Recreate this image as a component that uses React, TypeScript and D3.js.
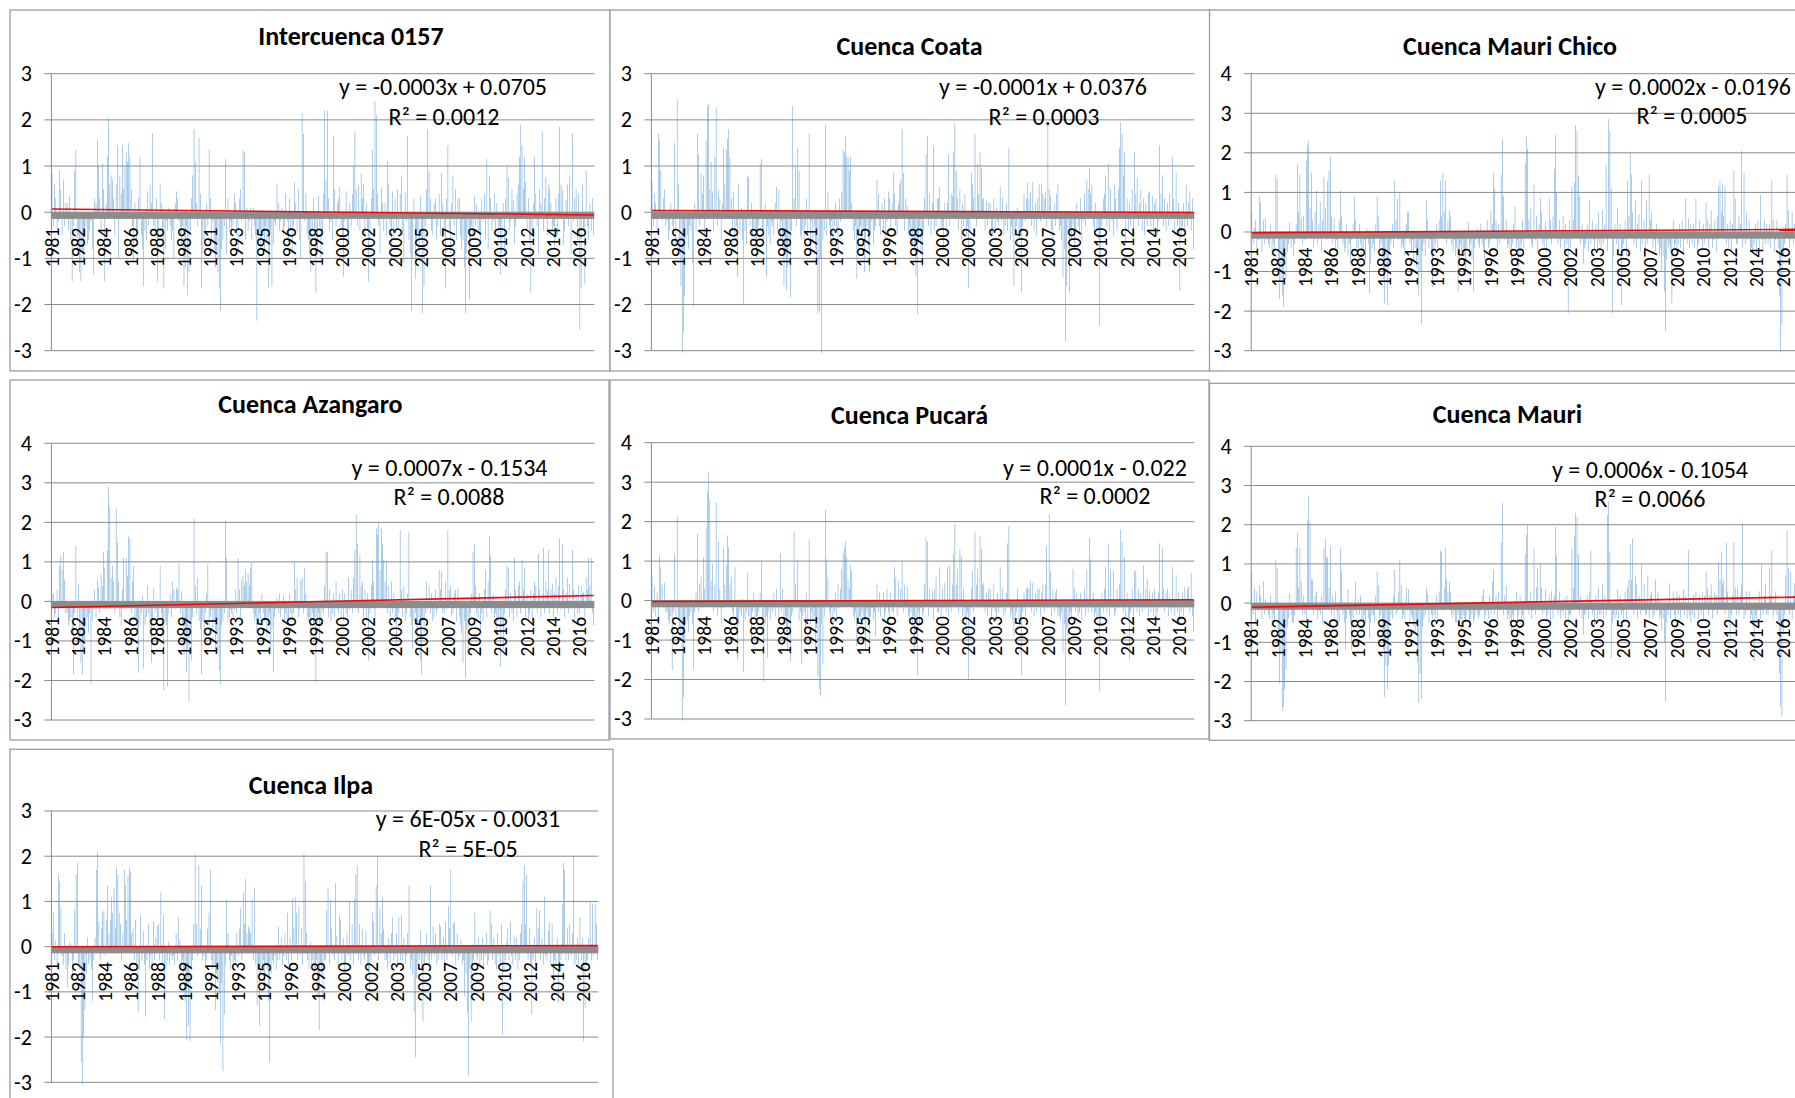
import React from 'react';
import * as d3 from 'd3';

// ---------- DATA (monthly anomalies, Jan 1981 – Dec 2016, 432 values per basin) ----------
const xTickLabels = ['1981','1982','1984','1986','1988','1989','1991','1993','1995','1996','1998','2000','2002','2003','2005','2007','2009','2010','2012','2014','2016'];
const labelStep = 21;

const intercuenca0157 = [
0.85,-0.3,0.6,0.3,-0.4,-0.2,0.9,0.5,-0.5,0.7,-0.3,0.2,
0.2,-0.4,0.35,-0.6,-1.5,-0.3,0.9,1.35,-0.8,-0.5,-1.3,-1.5,
-0.9,-1.1,-0.5,-0.3,-0.7,-0.6,-0.4,-0.2,-0.8,-1.35,0.3,0.2,
1.55,1.0,0.3,-0.4,1.05,0.5,-1.5,0.2,1.2,2.05,0.6,0.8,
0.7,0.3,-0.5,0.6,1.45,-1.0,0.8,0.4,1.45,0.5,1.0,1.3,
1.1,1.5,1.2,0.5,-0.3,-1.05,0.2,-0.6,-0.4,0.3,1.2,-0.5,
-0.8,-1.6,-0.4,-0.6,0.45,-0.3,0.6,0.2,1.7,-0.3,-0.5,0.3,
-1.5,-0.6,0.6,0.2,-0.5,-1.65,-0.8,-0.2,-0.4,0.1,-0.3,-0.6,
-0.4,-1.0,0.2,0.45,0.3,-0.2,-0.5,-0.7,-0.3,-1.6,-1.2,-0.3,
-1.8,-1.3,-0.4,0.3,0.8,1.8,1.1,0.2,-0.3,1.6,0.4,-1.65,
-0.9,-0.6,-0.4,0.2,-0.3,1.35,0.3,-0.6,-0.2,-0.8,-1.2,-0.9,
-1.3,-1.65,-2.15,-0.8,-0.6,-0.3,1.15,-0.9,0.3,-0.4,-0.2,-0.5,
-0.3,0.4,0.2,-0.5,-0.9,0.3,0.5,-0.2,1.35,1.3,-0.6,0.1,
-0.4,-0.2,0.1,-0.6,0.1,-0.3,-0.5,-2.35,-0.7,-0.4,-0.8,-0.6,
-0.5,-0.8,-0.3,-0.6,-1.65,-1.0,-0.4,-1.6,-0.7,-0.2,-0.3,0.6,
0.2,-0.4,-0.2,0.1,-0.5,-0.3,0.4,-0.2,-0.6,0.3,-0.4,-0.9,
-0.3,0.65,0.2,-0.4,0.5,-0.6,-1.0,2.15,1.7,-0.2,0.4,-0.5,
-0.6,-0.9,-1.3,-0.4,0.3,-0.5,-1.75,-0.8,0.35,-0.3,-1.0,-0.4,
0.4,2.2,0.7,2.2,0.3,-0.4,-0.2,-0.6,1.65,0.5,-0.3,0.2,
0.3,0.55,-0.3,-0.5,-1.4,-0.2,0.45,-0.4,-0.7,0.2,-0.3,0.4,
1.0,1.75,0.5,-0.3,0.6,-0.4,0.85,0.3,0.6,-0.5,0.2,-0.4,
-1.5,-0.6,0.3,1.35,0.5,2.4,2.1,0.4,-0.3,-0.9,0.55,0.2,
-0.4,0.2,-0.5,1.1,0.6,-0.3,-1.0,0.45,-0.6,0.3,-0.4,0.5,
-0.3,0.4,0.8,-0.5,-1.1,0.45,-0.2,1.65,-0.6,-0.9,-2.15,-1.0,
0.3,-1.45,-0.7,-0.4,-0.9,0.35,-0.6,-2.2,-1.6,-0.3,0.5,1.8,
0.9,0.3,-0.4,-0.5,0.2,0.3,-0.6,-0.3,0.4,-0.5,0.85,0.2,
-0.5,-1.65,0.3,1.45,-0.4,-0.9,0.2,0.8,-0.3,0.5,-0.6,0.3,
0.3,-0.5,-0.8,-0.6,-1.2,-2.2,-0.9,-0.4,-1.9,-0.7,-0.3,-0.5,
0.35,-0.3,0.2,-0.4,-0.5,-0.7,0.3,-0.2,0.4,-0.6,1.15,-0.8,
0.8,0.3,-0.4,-0.2,0.4,-0.5,0.2,-0.6,-0.3,-1.35,-0.9,0.2,
-0.9,0.3,1.0,0.75,-0.4,-0.2,0.5,0.25,-0.7,-0.3,0.4,0.6,
1.2,1.9,1.45,0.5,1.2,0.65,-0.4,0.3,-0.6,-1.75,-0.5,0.2,
1.2,0.4,-0.3,-0.9,0.5,0.2,1.75,-0.4,0.3,0.75,-0.5,0.6,
0.5,0.2,-0.4,-0.3,-0.8,0.3,-0.5,0.4,1.85,0.6,0.5,-0.7,
-0.4,0.25,0.6,-0.3,0.8,-0.9,1.7,-0.2,0.3,0.5,-0.6,0.4,
-2.55,-1.65,0.6,-0.4,-1.55,0.9,-0.3,-0.6,0.2,-0.4,0.3,-0.5,
];

const cuencaCoata = [
0.65,-0.3,0.4,0.2,-0.4,1.7,1.55,0.9,-0.2,0.3,0.5,-0.3,
-0.2,-0.6,-0.4,0.2,-0.3,-0.5,1.5,-0.7,2.45,0.6,-0.9,-1.6,
-3.05,-2.6,-1.8,-0.6,-0.5,-0.8,-0.3,-0.4,-1.1,-2.05,0.2,-0.4,
1.7,1.25,-0.3,0.85,0.4,0.8,-0.5,1.55,2.3,2.35,0.5,1.1,
0.45,-0.4,1.2,2.25,-0.3,0.5,0.3,-0.6,0.2,1.4,0.6,1.35,
1.6,1.8,1.2,0.3,-0.4,0.45,-0.6,-0.3,-1.4,0.6,-0.5,0.1,
-0.6,-2.0,-0.4,-0.7,0.8,0.75,-0.3,0.2,-0.5,-0.4,-0.8,-1.0,
-0.5,-0.3,1.05,1.15,-0.4,-0.6,0.2,-1.4,-0.3,-0.5,-0.7,-0.2,
-0.3,-0.5,0.2,0.55,-0.4,0.5,-0.6,-0.2,-0.8,-1.6,-0.9,-1.7,
-1.2,-0.6,-1.85,-0.4,2.3,0.3,1.0,-0.3,1.4,0.9,-0.5,-0.6,
-0.4,-0.6,-0.3,0.3,-0.5,1.7,-0.9,-0.2,-0.6,-0.3,-0.8,-1.1,
-2.2,-2.15,-1.0,-3.05,-0.6,-0.4,1.9,-0.5,0.45,-0.3,-0.6,-0.2,
-0.7,-0.3,0.2,-0.4,-0.8,0.3,-0.2,0.45,1.35,1.3,1.65,1.2,
1.2,0.9,1.2,0.2,-0.4,-0.6,-0.3,-1.45,-0.8,-0.5,-0.3,-0.6,
-0.4,-1.3,-0.6,-0.3,-0.8,-1.3,-0.5,-0.2,-0.7,-0.4,-0.3,0.7,
0.4,-0.3,-0.5,0.2,-0.4,0.3,-0.6,-0.2,0.45,0.3,-0.4,0.2,
0.85,0.4,-0.3,-0.5,0.2,0.6,0.7,1.8,0.85,-0.4,0.3,0.15,
-0.5,-0.3,-0.6,-0.7,-0.4,-0.8,-1.4,-2.2,-0.6,-0.3,-0.9,-1.2,
-0.4,0.3,1.25,1.65,-0.3,0.4,-0.5,0.2,1.45,-0.4,-0.3,0.3,
0.3,0.55,-0.4,-0.3,-0.8,0.2,-0.5,0.2,1.25,-0.3,0.4,0.35,
1.3,1.95,0.9,0.3,-0.4,0.5,-0.6,0.2,-0.3,0.4,-0.5,-0.3,
-1.65,-0.4,0.85,0.6,0.3,1.7,-0.3,1.05,0.4,1.3,0.95,0.3,
0.3,-0.4,0.25,-0.3,0.2,0.2,-0.5,-0.5,0.3,-0.4,0.1,-0.2,
-0.3,0.55,-0.2,0.3,-0.5,-0.3,0.2,-0.4,1.4,-0.6,-0.3,-0.5,
-1.6,-0.5,-0.3,0.1,-0.6,-0.4,-1.75,-0.3,0.4,-0.2,0.3,0.65,
0.3,0.45,-0.3,0.65,-0.4,0.2,-0.5,0.3,0.6,-0.2,0.6,0.4,
0.3,0.45,-0.3,1.9,0.5,0.35,-0.4,-0.7,0.2,-0.3,0.4,0.6,
-0.4,-0.3,-0.6,-1.4,-0.8,-2.8,-1.6,-0.5,-1.75,-0.4,-0.6,-0.3,
-0.8,-0.4,0.2,-0.3,-0.5,0.3,-0.6,-0.2,0.4,-0.3,0.7,0.5,
0.95,0.4,0.6,-0.3,-0.5,0.2,-0.4,-0.6,-2.45,-1.1,-0.3,0.3,
0.4,0.8,-0.3,1.05,-0.4,0.5,-0.2,-0.5,0.6,0.3,-0.4,0.5,
1.4,1.95,1.7,0.8,1.3,-0.7,0.3,-0.4,0.2,-0.3,0.5,-0.4,
1.3,0.4,0.75,-0.3,0.2,0.5,-0.4,0.3,-0.5,0.2,-0.3,0.4,
0.45,-0.3,0.35,-0.4,0.2,0.3,-0.5,-0.2,1.45,0.4,0.8,-0.3,
0.3,-0.4,0.2,-0.3,0.4,-0.2,1.2,0.3,-0.5,0.85,-0.3,0.2,
-1.7,-0.5,-0.3,0.2,-0.4,0.6,-0.3,0.2,0.45,-0.4,0.3,-0.8,
];

const cuencaMauriChico = [
0.5,-0.3,0.1,0.3,-0.4,-0.2,0.9,0.75,-0.5,0.3,-0.3,0.35,
-0.2,-0.3,-0.4,0.2,-0.6,-0.3,-0.5,1.45,1.35,-0.8,-1.7,-1.2,
-1.6,-1.9,-0.8,-1.2,-0.5,-0.3,0.25,-0.4,-0.2,-0.6,-0.3,0.2,
1.7,0.5,1.45,0.35,-0.3,0.4,-0.2,1.8,2.2,2.3,0.6,1.5,
0.3,-0.4,0.5,1.05,-0.3,0.2,0.75,-0.5,0.3,1.4,0.6,-0.2,
1.3,1.55,1.9,0.4,-0.3,0.35,-0.4,-0.2,-0.5,0.3,1.05,0.4,
-0.3,-0.5,-0.4,0.2,-0.6,-0.3,-0.8,-0.2,0.2,0.9,0.3,-0.4,
-0.5,0.2,-0.3,-0.6,-0.4,-0.2,-0.7,0.1,-0.3,-1.55,-0.8,-0.4,
-0.3,-0.5,0.2,0.9,0.4,-0.4,-0.3,-0.6,-1.2,-1.8,-0.9,-1.85,
-0.8,-0.5,-0.3,0.2,-0.4,1.3,0.3,0.85,-0.2,1.0,-0.4,-0.3,
-0.4,-0.6,0.2,0.5,0.5,-0.3,-0.5,-0.2,-0.7,-0.4,-0.9,-0.6,
-1.6,-1.0,-2.35,-0.5,-0.3,-0.6,0.8,0.3,-0.4,-0.2,-0.5,-1.4,
-0.5,-0.3,0.2,-0.4,0.3,1.3,0.4,1.5,0.5,1.3,-0.3,0.3,
0.55,0.4,-0.3,-0.5,-0.2,-0.6,-0.4,-1.5,-0.8,-0.3,-0.5,-0.4,
-0.6,-1.1,-0.4,0.25,-0.5,-0.3,-0.7,-1.5,-0.4,-0.2,0.1,-0.3,
-0.4,0.2,-0.3,-0.5,-0.7,-0.2,0.3,-0.4,-0.3,0.55,0.2,1.5,
1.1,0.3,-0.4,0.2,-0.3,1.45,2.35,0.9,-0.2,0.3,-0.4,-0.3,
-0.5,-0.8,-0.3,0.2,0.65,-0.4,-0.2,-0.9,-0.5,-0.3,0.3,-0.4,
1.75,2.4,2.1,0.3,0.6,-0.3,-0.4,1.2,-0.2,0.4,-0.5,0.2,
0.85,0.5,-0.3,-0.4,0.25,-0.5,-0.2,0.85,0.3,-0.3,0.4,1.6,
2.45,1.0,-0.3,0.3,-0.4,-0.2,0.4,-0.5,0.2,-0.3,-2.05,0.3,
-0.4,1.15,0.3,1.25,2.7,2.55,1.4,0.9,-0.3,0.2,-0.8,-0.4,
-0.3,0.2,-0.5,0.8,-0.3,0.3,-0.2,-0.4,0.2,-0.5,0.5,-0.3,
-0.4,0.55,-0.3,0.2,1.7,-0.5,2.85,2.55,1.1,-2.05,-0.6,0.2,
-0.3,0.6,-0.5,0.2,-1.85,-0.4,-0.3,0.3,-0.6,1.3,0.4,2.0,
1.45,0.5,-0.3,0.8,-0.4,0.2,0.45,-0.5,1.3,-0.3,0.3,-0.4,
0.8,-0.3,1.45,0.3,0.5,-0.4,-0.2,-0.5,0.2,-0.3,-0.6,-0.4,
-1.0,-0.6,-1.5,-2.5,-0.7,-0.4,-0.3,-0.5,-1.8,0.3,-0.4,-0.3,
-0.5,-0.3,0.2,-0.4,0.3,-0.5,-0.2,0.85,-0.3,0.35,-0.4,0.2,
-0.3,0.2,-0.4,0.85,-0.5,-0.3,0.3,-0.2,-0.4,0.2,-0.3,0.75,
0.3,-0.4,0.2,0.55,-0.4,-0.2,0.3,-0.5,0.4,1.15,1.3,0.5,
1.2,0.4,1.15,-0.3,0.2,-0.4,0.3,-0.5,0.2,1.55,0.85,-0.3,
-0.3,0.4,0.2,2.05,-0.4,1.5,-0.3,0.5,-0.2,0.3,-0.5,-0.4,
-0.5,-0.3,0.2,-0.6,0.3,-0.4,0.95,-0.2,-0.5,0.3,-0.3,0.2,
-0.3,0.2,-0.4,1.3,0.3,-0.5,-0.2,0.3,-0.4,-1.6,-3.05,-2.35,
-0.6,-0.3,0.2,1.45,0.55,-0.4,-0.2,0.5,-0.3,0.2,-0.4,0.3,
];

const cuencaAzangaro = [
0.2,0.2,-0.4,-0.3,0.3,-0.5,0.9,1.15,0.8,1.25,0.55,-0.3,
-0.3,-0.6,-0.5,-0.4,-0.8,-1.85,-0.3,1.4,-0.5,0.45,-1.0,-1.55,
-1.85,-1.2,-1.0,-0.6,-0.4,-0.8,-0.3,-2.1,-0.5,-0.2,0.3,-0.4,
0.55,0.35,-0.3,0.7,0.4,1.25,0.85,-0.2,1.3,2.9,2.4,0.6,
0.9,0.5,-0.3,2.35,1.5,0.5,-0.4,-0.6,0.3,1.1,-0.2,1.1,
0.65,1.65,1.6,-0.3,0.5,0.9,-0.5,-0.4,-0.8,-1.8,-0.6,-0.3,
0.15,-1.7,-0.6,-0.4,0.4,-0.3,-0.8,-1.55,-0.5,0.35,-0.3,-0.2,
-0.6,-0.4,0.9,-0.3,-0.8,-2.25,-0.5,-0.6,-2.15,-0.3,0.2,-0.4,
0.5,0.3,-0.2,0.35,0.3,0.95,-0.3,0.25,-0.6,-1.35,-0.9,-1.8,
-1.2,-2.55,-0.8,-1.5,-0.4,2.1,0.4,-0.3,0.6,-0.5,-0.7,-1.85,
-0.5,-0.9,-0.3,0.2,0.95,-0.6,-0.4,-0.2,-0.7,-0.5,-1.2,-0.8,
-1.3,-1.75,-2.1,-0.6,-0.5,-0.3,2.05,1.1,-0.5,-0.4,-0.2,-0.3,
-0.4,-0.2,0.3,-0.3,1.1,0.3,-0.4,0.55,0.65,0.4,0.8,0.5,
0.7,0.4,0.85,1.0,-0.3,-0.5,-0.4,-0.8,-0.6,-0.3,-0.5,0.2,
-0.3,-0.5,-0.4,-0.9,-0.6,-0.3,-1.3,-0.7,-1.8,-0.4,-0.2,0.1,
-0.3,0.2,-0.4,-0.2,0.15,-0.5,-0.3,-0.6,-0.5,0.2,-0.3,-0.4,
-0.3,1.0,0.3,0.6,-0.4,-0.2,0.55,0.6,-0.3,0.85,0.2,-0.4,
-0.5,-0.4,-0.9,-0.3,-0.6,-0.4,-2.05,-0.5,-0.3,-1.0,-0.6,-0.2,
-0.3,0.4,1.25,1.25,-0.4,0.3,-0.5,-0.3,0.2,-0.4,0.5,-0.2,
-0.3,0.2,-0.4,0.3,-0.5,0.2,-0.3,-0.4,0.6,-0.2,0.3,-0.3,
0.6,1.3,2.2,1.45,-0.3,1.2,0.4,0.5,-0.4,0.3,-0.5,0.2,
-1.5,-0.3,0.4,1.05,0.5,-0.4,1.85,1.7,2.0,0.8,1.85,1.45,
1.05,0.5,1.0,-0.3,0.4,-0.4,0.5,-0.3,0.2,-0.5,-1.1,-0.4,
-0.3,1.8,0.3,-0.4,0.4,-0.5,-0.3,0.2,1.75,-0.4,-0.6,-1.2,
-0.5,-0.3,-0.6,-0.9,-0.4,-1.5,-1.85,-0.5,-0.8,-0.3,0.5,-0.2,
0.4,-0.3,0.2,-0.5,-0.4,0.3,-0.3,-0.2,0.8,0.3,0.75,-0.3,
-0.3,0.5,-0.2,1.8,0.3,0.4,-0.4,-0.3,0.2,0.3,-0.5,0.35,
-0.4,-0.6,-0.8,-1.55,-0.5,-1.95,-0.7,-1.4,-0.4,-0.3,0.2,1.25,
1.45,0.4,-0.3,-0.4,0.2,-0.7,-0.3,-0.5,0.3,0.8,-0.4,0.5,
1.65,1.15,-0.3,0.2,-0.4,-0.3,-0.8,-0.5,-0.2,-1.65,-0.6,-1.2,
-0.3,0.3,0.9,0.85,-0.4,0.2,-0.3,-0.5,1.1,0.3,-0.4,0.4,
0.5,-0.3,1.05,0.3,0.85,-0.4,0.2,-0.5,-0.3,0.3,-0.4,0.2,
0.5,0.4,-0.3,1.2,0.3,-0.4,0.2,1.35,-0.3,0.5,0.3,1.3,
-0.3,0.3,0.45,-0.4,0.2,0.6,-0.3,0.4,1.6,-0.2,1.45,0.3,
-0.4,0.2,0.6,-0.3,0.45,-0.2,1.3,0.3,-0.5,0.2,-0.3,0.4,
-0.3,0.4,0.2,0.25,-0.4,0.6,0.3,1.1,0.4,1.1,-0.3,-0.6,
];

const cuencaPucara = [
0.6,-0.3,0.35,-0.4,0.2,-0.5,1.15,0.85,0.4,-0.2,0.45,-0.3,
-0.3,-0.5,-0.6,-0.4,-1.75,-0.3,1.2,-0.4,2.15,-0.5,-0.7,-1.0,
-3.05,-2.45,-1.0,-0.6,-0.5,-0.8,-0.4,-0.3,-0.6,-1.75,-0.3,0.2,
1.7,-0.3,0.4,0.6,-0.2,1.1,0.3,1.85,2.75,3.25,2.55,0.5,
0.95,-0.3,0.4,2.5,-0.4,1.5,0.3,-0.6,-0.2,1.35,0.4,0.9,
1.65,1.35,0.4,0.6,-0.3,-0.4,0.85,-0.5,-1.5,-0.6,-0.3,-0.4,
0.05,-1.8,-0.5,-0.3,0.7,-0.4,-0.6,-1.0,-0.3,0.2,-0.4,-0.5,
-0.4,-0.3,0.2,1.0,-0.5,-2.05,-0.6,-0.4,-1.45,-0.3,-0.5,-0.2,
-0.3,0.2,-0.4,0.3,-0.2,-0.5,1.2,-0.3,0.3,-0.6,-0.4,-0.8,
-1.3,-0.6,-1.55,-0.4,-0.3,1.75,0.4,-0.2,1.05,-0.5,-0.3,-1.6,
-0.4,-0.3,-0.8,0.2,-0.5,1.55,-0.6,-0.3,-0.5,-0.4,-1.2,-0.7,
-1.9,-2.25,-2.4,-0.6,-1.6,-0.4,2.3,1.05,0.6,-0.3,-0.5,-0.2,
-0.6,-0.3,0.2,-0.4,0.4,-0.2,0.3,0.8,1.2,1.35,1.5,1.1,
0.5,0.3,0.9,0.75,-0.4,-0.5,-0.3,-1.15,-0.6,-0.4,-0.5,-0.3,
-0.4,-0.5,-1.25,-0.3,-0.6,-1.35,-0.4,-0.2,-0.5,-0.3,-0.9,0.4,
-0.3,0.2,-0.4,-0.2,0.2,-0.5,-0.3,0.3,-0.3,-0.4,0.2,-0.3,
-0.3,0.85,0.6,-0.4,0.5,-0.2,0.3,1.0,-0.3,0.4,-0.2,0.35,
-0.4,-0.5,-0.3,-0.6,-0.4,-1.3,-0.5,-1.9,-0.3,-0.6,-0.2,-0.4,
-0.3,0.4,1.6,1.5,-0.4,0.3,-0.2,0.25,-0.5,0.3,0.6,-0.3,
-0.3,0.85,-0.4,0.3,-0.2,0.45,-0.3,0.85,-0.4,0.9,-0.3,0.4,
1.2,1.95,0.4,0.8,-0.3,1.3,1.15,-0.4,0.3,-0.5,-0.9,-0.3,
-2.0,-0.4,0.3,0.75,-0.3,1.75,0.4,0.8,-0.2,1.65,1.3,0.4,
0.45,-0.3,0.2,-0.4,0.3,0.3,-0.5,-0.2,0.4,-0.3,-0.5,0.2,
-0.3,0.85,-0.2,0.3,-0.4,-0.3,0.2,1.45,1.9,-0.4,-0.3,-0.5,
-0.9,-0.4,-0.3,0.3,-0.5,-0.6,-1.9,-0.3,0.2,-0.4,0.3,0.35,
0.3,0.5,-0.3,0.45,-0.4,0.2,-0.3,0.3,0.3,-0.4,0.2,0.4,
-0.3,0.4,1.4,-0.2,2.2,0.75,-0.4,0.3,-0.3,0.2,0.3,-0.4,
-0.4,-0.5,-0.3,-1.3,-0.6,-2.65,-0.7,-1.1,-0.4,-0.3,-0.5,0.8,
0.3,-0.3,0.2,-0.4,-0.3,0.2,-0.5,-0.2,0.3,-0.4,0.8,-0.3,
1.6,1.05,-0.3,0.2,-0.4,-0.3,-0.5,-0.4,-2.3,-0.6,0.2,-0.3,
0.3,0.85,-0.3,1.45,-0.4,0.8,-0.2,0.75,-0.4,-0.3,0.3,-0.2,
0.4,1.8,1.5,-0.3,1.1,-0.4,0.2,-0.5,-1.5,-0.3,0.3,-0.4,
0.75,0.75,-0.3,0.3,-0.4,0.2,-0.3,0.9,-0.2,0.3,0.55,-0.4,
0.25,-0.3,0.2,-0.4,0.3,-0.5,-0.3,0.2,1.45,-0.2,1.35,0.3,
-0.3,0.2,0.3,-0.4,0.1,-0.3,0.85,-0.2,-0.4,0.65,-0.3,0.2,
-0.6,-0.3,0.2,-0.4,0.35,-0.2,0.3,0.35,-0.3,0.7,-0.4,-0.8,
];

const cuencaMauri = [
0.75,-0.3,0.4,-0.5,0.3,-0.2,0.45,0.2,-0.4,0.55,-0.3,0.1,
-0.2,-0.3,-0.4,0.2,-0.6,-0.3,-0.5,1.1,0.9,-0.7,-2.05,-1.3,
-2.75,-2.65,-2.2,-1.7,-0.6,-0.4,0.25,-0.3,-0.5,-0.5,-0.3,1.4,
1.8,0.4,1.4,0.55,-0.3,0.2,-0.3,-0.4,2.1,2.75,2.05,0.6,
0.6,-0.3,0.2,0.3,-0.4,-0.2,-0.3,0.2,-0.5,1.4,1.65,1.2,
1.15,0.4,1.45,-0.3,0.2,-0.4,0.3,-0.2,-0.6,-0.5,1.4,0.8,
-0.3,-0.5,-1.2,-0.4,0.35,-0.3,-0.5,-1.2,-0.4,-0.2,0.55,-0.3,
0.1,-0.3,0.2,-0.4,-0.6,-0.3,-0.5,-0.2,-0.4,-0.9,-0.5,-0.3,
-0.3,-0.5,0.2,0.8,0.45,-0.4,-0.3,-0.9,-1.2,-2.4,-1.6,-2.2,
-1.6,-0.5,-0.3,-0.4,0.2,0.85,-0.3,-0.2,0.3,1.1,0.45,-0.4,
-0.3,-0.4,0.4,-0.2,0.35,-0.5,-0.3,-0.4,-0.6,-0.8,-0.5,-1.5,
-2.55,-1.8,-2.45,-0.6,-0.4,-0.3,0.4,0.25,-0.5,-0.2,-0.3,-0.4,
-0.3,-0.4,0.2,-0.5,0.3,1.35,1.3,-0.2,0.4,1.4,0.6,0.3,
0.55,0.3,-0.3,-0.4,-0.2,-0.5,-0.5,-0.3,-0.6,-0.4,-0.7,-0.3,
-0.4,-0.5,-0.3,-0.2,-0.6,-0.4,-0.3,-0.5,-0.4,-0.2,-0.3,-0.4,
-0.3,-0.2,0.2,0.35,-0.4,-0.3,-0.2,-0.4,0.2,-0.3,0.55,0.85,
-0.3,0.2,-0.4,0.3,-0.2,1.55,2.55,-0.3,0.2,0.45,-0.4,-0.3,
-0.5,-0.8,-0.3,-0.4,-0.2,0.3,-0.5,-0.3,0.2,-0.4,-0.3,-0.5,
1.25,1.75,2.0,-0.3,0.3,-0.4,-0.2,1.4,-0.3,0.4,0.9,-0.2,
1.0,0.4,-0.3,-0.2,0.35,-0.4,-0.3,0.2,-0.5,0.3,-0.4,0.2,
1.95,1.2,-0.3,0.3,-0.4,-0.2,-0.3,0.1,-0.4,0.2,-0.5,-0.3,
-0.3,1.4,0.4,1.7,2.3,2.2,1.25,-0.3,0.2,-0.4,-0.8,-0.3,
-0.3,0.2,-0.4,0.3,1.35,-0.3,-0.2,-0.6,0.2,-0.4,0.4,-0.3,
-0.3,0.5,-0.4,0.2,-0.3,2.25,2.6,1.3,-1.4,-0.5,-0.3,-0.4,
-0.3,0.35,-0.4,0.2,-0.3,-0.2,-0.5,0.3,-0.4,0.4,0.6,1.5,
0.6,1.65,-0.3,0.7,0.5,-0.4,0.2,-0.3,1.0,-0.2,0.5,-0.3,
-0.3,0.7,-0.4,0.2,0.3,-0.4,-0.3,0.6,-0.2,0.3,-0.4,-0.3,
-0.7,-0.4,-1.0,-2.5,-0.5,-0.3,0.5,-0.4,-0.2,0.3,-0.3,-0.4,
0.3,-0.3,0.2,-0.4,-0.2,0.35,-0.3,0.2,-0.4,1.35,-0.3,-0.5,
-0.3,0.2,-0.4,0.3,-0.2,-0.4,0.2,-0.3,0.3,-0.4,0.2,0.8,
0.4,-0.3,0.2,0.5,-0.4,-0.2,0.3,0.2,-0.3,1.05,0.6,1.3,
0.5,0.6,-0.3,1.55,0.3,-0.4,-1.0,-0.3,0.2,1.55,0.4,-0.3,
0.4,-0.3,0.2,0.5,2.05,-0.4,-0.3,0.3,-0.2,0.3,-0.4,-0.3,
-0.6,-1.5,-0.3,-0.4,-0.2,0.3,-0.4,1.0,-0.3,0.2,0.5,-0.3,
-0.3,0.9,0.2,1.35,-0.4,-0.2,0.3,-0.3,-0.5,-1.8,-2.65,-2.9,
-0.8,-0.3,0.7,1.85,0.9,-0.3,0.8,-0.4,0.2,0.5,-0.3,0.2,
];

const cuencaIlpa = [
0.3,0.75,-0.3,0.15,-0.5,1.6,1.45,0.85,-0.2,-0.4,0.3,-0.5,
-0.9,-0.4,0.1,0.05,-0.7,-0.3,0.8,1.6,1.85,-0.4,-0.5,-2.55,
-3.05,-2.0,-1.4,-0.6,0.2,-0.4,-0.3,-0.5,-1.2,-0.3,0.2,1.7,
2.1,0.55,-0.3,0.4,0.75,0.8,-0.2,0.6,1.35,0.3,0.6,1.1,
0.75,1.3,0.4,1.75,1.6,0.75,0.5,-0.3,0.3,1.7,1.35,0.6,
1.55,1.75,1.65,0.3,0.4,-0.3,0.6,-0.4,-1.45,-0.5,0.7,-0.3,
0.35,-0.4,-1.55,-0.3,0.5,-0.5,-0.2,-0.4,0.55,-0.3,0.2,0.45,
0.5,-0.3,1.2,-0.4,0.7,-1.6,-0.5,-0.3,0.1,-0.4,-0.2,-0.3,
-0.2,-0.4,0.3,-0.3,0.65,0.15,-0.5,-0.3,-0.6,-1.2,-2.05,-0.8,
-1.75,-2.1,-0.5,-0.3,0.5,2.05,0.5,-0.2,1.8,0.4,1.35,-0.3,
-0.2,-0.4,-0.3,0.4,0.75,1.7,-0.3,-0.5,-0.4,-1.4,-0.6,-0.8,
-1.05,-2.15,-0.8,-2.75,-1.5,-0.4,1.05,0.3,-0.3,-0.5,-0.2,-0.4,
-0.3,-0.4,0.3,-0.2,0.4,0.85,-0.3,1.2,0.5,1.5,0.3,0.45,
0.4,0.3,1.05,-0.3,1.3,-0.4,-1.3,-0.5,-1.75,-0.6,-0.4,-0.3,
-0.8,-0.4,-0.5,-1.2,-2.55,-0.6,-0.3,-0.4,-0.2,-0.5,-0.3,0.45,
-0.3,0.2,-0.4,-0.2,0.3,-0.3,0.75,-0.4,0.2,-0.3,1.05,0.4,
1.1,0.75,-0.3,0.9,-0.2,0.4,-0.4,2.05,1.45,0.3,-0.3,-0.5,
0.1,-0.4,-0.3,-0.6,-0.5,-0.3,-1.1,-1.85,-0.4,-0.6,-1.2,-0.3,
-0.3,0.8,1.3,-0.4,1.05,0.4,-0.2,-0.3,1.4,0.25,-0.4,0.7,
0.6,-0.3,0.2,-0.6,-0.4,0.3,-0.2,1.0,-0.3,0.5,-0.4,1.05,
1.6,1.8,-0.3,0.5,-0.4,0.4,-0.2,-0.3,0.35,-0.4,-0.6,-1.0,
-0.3,0.75,0.55,-0.2,1.35,2.0,-0.3,0.85,0.3,1.1,0.4,-0.3,
-0.3,-0.5,0.2,-0.4,0.3,0.65,-0.3,-0.2,0.3,-0.4,0.65,-0.3,
0.7,-0.3,0.2,-0.4,-0.2,0.3,1.35,-0.5,-0.3,-0.6,-1.45,-2.45,
-0.7,-0.4,-0.3,0.35,-0.5,-1.65,-0.4,-0.2,0.3,-0.3,-0.4,1.35,
-0.3,0.45,-0.2,0.3,-0.4,-0.3,0.5,0.45,-0.3,0.2,-0.4,0.55,
-0.3,0.9,0.4,1.7,-0.2,0.5,0.55,-0.4,0.3,-0.3,-0.2,0.15,
-0.4,-0.3,-1.1,-0.6,-1.45,-2.85,-0.5,-1.65,-0.4,-0.3,0.75,-0.2,
-0.3,0.2,-0.4,-0.3,0.2,-0.5,-0.2,0.3,-0.4,-0.3,0.8,0.5,
-0.3,0.2,-0.4,-0.5,0.3,-0.2,-0.4,0.5,-1.95,-0.5,-0.3,0.1,
0.4,-0.3,0.55,-0.2,-0.4,0.25,-0.3,0.2,-0.5,-0.3,0.3,0.5,
1.45,1.8,0.5,1.6,-0.3,0.4,-0.4,-1.5,-0.3,0.2,-0.4,0.85,
0.4,0.8,-0.3,0.2,-0.4,1.1,-0.2,-0.3,0.35,0.55,-0.4,0.5,
-0.9,-0.3,-0.4,0.2,-1.25,-0.5,-0.3,0.95,1.85,1.7,-0.3,0.4,
-0.3,0.5,-0.2,0.3,2.0,-0.4,-0.3,0.2,-0.4,0.65,-0.3,0.2,
-2.1,-1.35,-0.4,-0.3,0.2,1.0,-0.3,0.95,-0.2,0.95,0.5,-0.3,
];

const titles = ['Intercuenca 0157', 'Cuenca Coata', 'Cuenca Mauri Chico', 'Cuenca Azangaro', 'Cuenca Pucará', 'Cuenca Mauri', 'Cuenca Ilpa'];
const seriesList = [intercuenca0157, cuencaCoata, cuencaMauriChico, cuencaAzangaro, cuencaPucara, cuencaMauri, cuencaIlpa];
const trendSlopes = [-0.0003, -0.0001, 0.0002, 0.0007, 0.0001, 0.0006, 0.00006];
const trendIntercepts = [0.0705, 0.0376, -0.0196, -0.1534, -0.022, -0.1054, -0.0031];
const equationLabels = ['y = -0.0003x + 0.0705', 'y = -0.0001x + 0.0376', 'y = 0.0002x - 0.0196', 'y = 0.0007x - 0.1534', 'y = 0.0001x - 0.022', 'y = 0.0006x - 0.1054', 'y = 6E-05x - 0.0031'];
const r2Labels = ['R² = 0.0012', 'R² = 0.0003', 'R² = 0.0005', 'R² = 0.0088', 'R² = 0.0002', 'R² = 0.0066', 'R² = 5E-05'];
const yMaxes = [3, 3, 4, 4, 4, 4, 3];
const yMin = -3;

// ---------- LAYOUT (pixels) ----------
const layouts = [
  { box: [10, 10, 600, 361], plot: [51.4, 594.3, 73.7, 350.7], title: [351, 45], eq: [443, 95], r2: [444, 125] },
  { box: [610, 10, 600, 361], plot: [651.4, 1194.3, 73.7, 350.7], title: [909.6, 55], eq: [1043, 95], r2: [1044, 125] },
  { box: [1209.5, 10, 600, 361], plot: [1251.2, 1797.8, 73.7, 350.7], title: [1510, 55], eq: [1693, 95], r2: [1692, 124] },
  { box: [10, 380, 599, 360], plot: [51.4, 594.3, 443.3, 720], title: [310.4, 413.3], eq: [449.5, 476], r2: [449, 505] },
  { box: [610, 380, 599, 359], plot: [651.4, 1194.3, 442.7, 719], title: [909.6, 424], eq: [1095, 476], r2: [1095, 504.3] },
  { box: [1209.5, 383.3, 600, 357], plot: [1251.2, 1797.8, 446.3, 720.7], title: [1507.4, 423.3], eq: [1650, 478.3], r2: [1650, 506.7] },
  { box: [10, 749.3, 603, 360], plot: [51.4, 598.3, 811, 1082.3], title: [311, 794], eq: [468, 827.3], r2: [468, 856.7] },
];

const FONT = 'Carlito, Lato, sans-serif';
const GRID = '#8a8a8a';

function Panel({ idx }: { idx: number }) {
  const data = seriesList[idx];
  const lay = layouts[idx];
  const [x0, x1, yTop, yBot] = lay.plot;
  const n = data.length;
  const x = d3.scaleBand<number>().domain(d3.range(n)).range([x0, x1]).paddingInner(0.6).paddingOuter(0.3);
  const y = d3.scaleLinear().domain([yMin, yMaxes[idx]]).range([yBot, yTop]);
  const bw = x.bandwidth();
  const cx = (i: number) => (x(i) as number) + bw / 2;
  const y0 = y(0);
  const ticks = d3.range(yMin, yMaxes[idx] + 1);
  const trend = d3.line<number>().x((i) => cx(i)).y((i) => y(trendSlopes[idx] * (i + 1) + trendIntercepts[idx]));
  return (
    <g>
      <rect x={lay.box[0]} y={lay.box[1]} width={lay.box[2]} height={lay.box[3]} fill="#fff" stroke="#9c9c9c" strokeWidth={1.3} />
      <text x={lay.title[0]} y={lay.title[1]} textAnchor="middle" fontSize={26} fontWeight="bold" fill="#000">{titles[idx]}</text>
      {ticks.map((t) => (
        <g key={t}>
          <line x1={x0 - 7} x2={x1} y1={y(t)} y2={y(t)} stroke={GRID} strokeWidth={1} />
          <text x={x0 - 19.5} y={y(t)} dy="0.34em" textAnchor="end" fontSize={22} fill="#000">{t}</text>
        </g>
      ))}
      <line x1={x0} x2={x0} y1={yTop} y2={yBot} stroke={GRID} strokeWidth={1} />
      <g fill="#5b9bd5">
        {data.map((v, i) => (
          <rect key={i} x={x(i)} width={bw} y={Math.min(y(v), y0)} height={Math.abs(y(v) - y0)} />
        ))}
      </g>
      <rect x={x0} y={y0} width={x1 - x0} height={6.7} fill="#8c8c8c" />
      <path d={trend([0, n - 1]) || ''} stroke="#ff0000" strokeWidth={1.6} fill="none" />
      {xTickLabels.map((lab, k) => (
        <text key={lab} transform={`translate(${cx(k * labelStep)},${y0 + 15.5}) rotate(-90)`} dy="0.34em" textAnchor="end" fontSize={19.5} fill="#000">{lab}</text>
      ))}
      <text x={lay.eq[0]} y={lay.eq[1]} textAnchor="middle" fontSize={24} fill="#000">{equationLabels[idx]}</text>
      <text x={lay.r2[0]} y={lay.r2[1]} textAnchor="middle" fontSize={24} fill="#000">{r2Labels[idx]}</text>
    </g>
  );
}

export default function App() {
  return (
    <svg width={1795} height={1098} style={{ position: 'absolute', left: 0, top: 0, display: 'block', background: '#fff' }} fontFamily={FONT}>
      <rect x={0} y={0} width={1795} height={1098} fill="#fff" />
      {titles.map((_, i) => <Panel key={i} idx={i} />)}
    </svg>
  );
}
